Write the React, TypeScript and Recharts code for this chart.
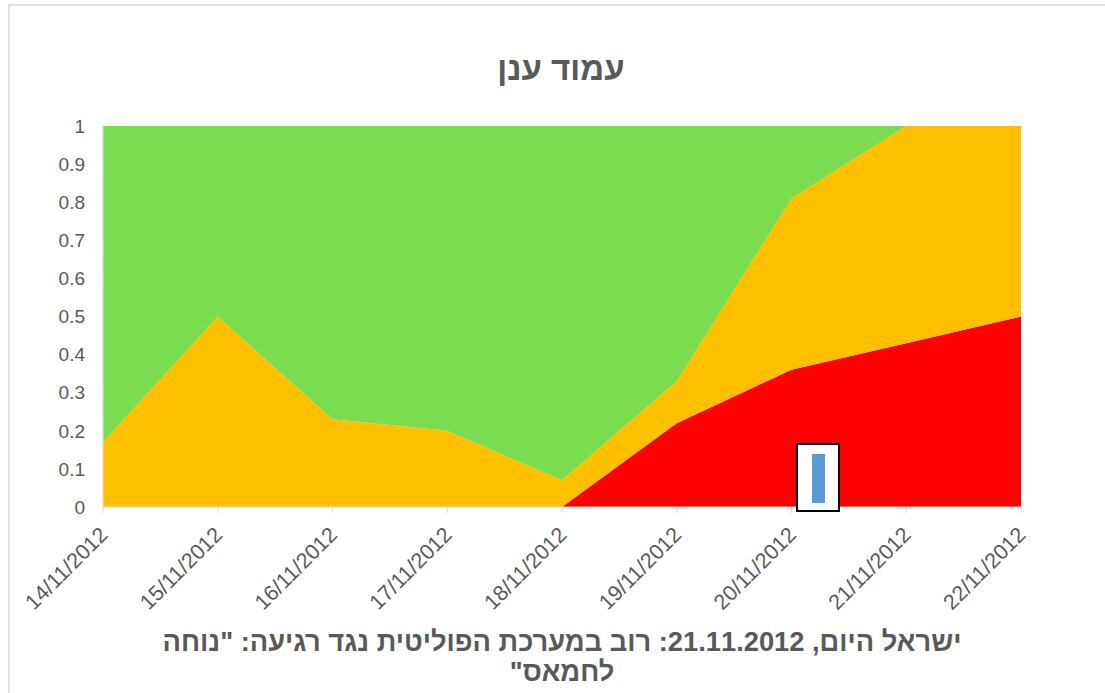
import { AreaChart, Area, XAxis, YAxis } from 'recharts';

const dates = [
    '14/11/2012', '15/11/2012', '16/11/2012', '17/11/2012', '18/11/2012',
    '19/11/2012', '20/11/2012', '21/11/2012', '22/11/2012',
];
const red = [0, 0, 0, 0, 0, 0.22, 0.36, 0.43, 0.5];
const orange = [0.17, 0.5, 0.23, 0.2, 0.07, 0.11, 0.45, 0.57, 0.5];
const green = [0.83, 0.5, 0.77, 0.8, 0.93, 0.67, 0.19, 0, 0];
const yTicks = [0, 0.1, 0.2, 0.3, 0.4, 0.5, 0.6, 0.7, 0.8, 0.9, 1];

const title = 'עמוד ענן';
const captionLine1 = 'ישראל היום, 21.11.2012: רוב במערכת הפוליטית נגד רגיעה: "נוחה';
const captionLine2 = 'לחמאס"';

const data = dates.map((d, i) => ({ date: d, red: red[i], orange: orange[i], green: green[i] }));

const FONT = '"Liberation Sans", Arial, sans-serif';
const TEXT = '#595959';

function DateTick({ x, y, payload }: any) {
    const px = x + 6;
    const py = y + 21;
    return (
        <text
            x={px}
            y={py}
            transform={`rotate(-45, ${px}, ${py})`}
            textAnchor="end"
            fill={TEXT}
            fontSize={21.5}
            fontFamily={FONT}
        >
            {payload.value}
        </text>
    );
}

export default function App() {
    return (
        <div style={{ position: 'absolute', left: 0, top: 0, width: 1105, height: 693, background: '#fff', overflow: 'hidden' }}>
            <div style={{ position: 'absolute', left: 8, top: 4, width: 1200, height: 800, border: '2px solid #e2e2e2' }} />
            <div
                dir="rtl"
                style={{
                    position: 'absolute', left: 0, width: 1122, top: 50, textAlign: 'center',
                    fontFamily: FONT, fontWeight: 'bold', fontSize: 33, color: TEXT,
                }}
            >
                {title}
            </div>
            <div style={{ position: 'absolute', left: 0, top: 0 }}>
                <AreaChart width={1105} height={693} data={data} margin={{ top: 126, right: 84, bottom: 86, left: 43 }}>
                    <XAxis
                        dataKey="date"
                        axisLine={{ stroke: '#d9d9d9' }}
                        tickLine={{ stroke: '#d9d9d9' }}
                        tickSize={6}
                        height={100}
                        interval={0}
                        tick={<DateTick />}
                    />
                    <YAxis
                        domain={[0, 1]}
                        ticks={yTicks}
                        width={60}
                        axisLine={{ stroke: '#d9d9d9' }}
                        tickLine={false}
                        tickSize={6}
                        tickMargin={12}
                        tick={{ fill: TEXT, fontSize: 19, fontFamily: FONT }}
                    />
                    <Area type="linear" dataKey="red" stackId="a" stroke="none" fill="#ff0000" fillOpacity={1} isAnimationActive={false} />
                    <Area type="linear" dataKey="orange" stackId="a" stroke="none" fill="#ffc000" fillOpacity={1} isAnimationActive={false} />
                    <Area type="linear" dataKey="green" stackId="a" stroke="none" fill="#7adc4f" fillOpacity={1} isAnimationActive={false} />
                </AreaChart>
            </div>
            <div style={{ position: 'absolute', left: 796, top: 443, width: 40, height: 65, border: '2px solid #000', background: '#fff' }}>
                <div style={{ position: 'absolute', left: 14, top: 9, width: 13, height: 49, background: '#5b9bd5' }} />
            </div>
            <div
                dir="rtl"
                style={{
                    position: 'absolute', left: 0, width: 1124, top: 627, textAlign: 'center',
                    fontFamily: FONT, fontWeight: 'bold', fontSize: 27.3, lineHeight: '30px', color: TEXT,
                }}
            >
                <div>{captionLine1}</div>
                <div>{captionLine2}</div>
            </div>
        </div>
    );
}
